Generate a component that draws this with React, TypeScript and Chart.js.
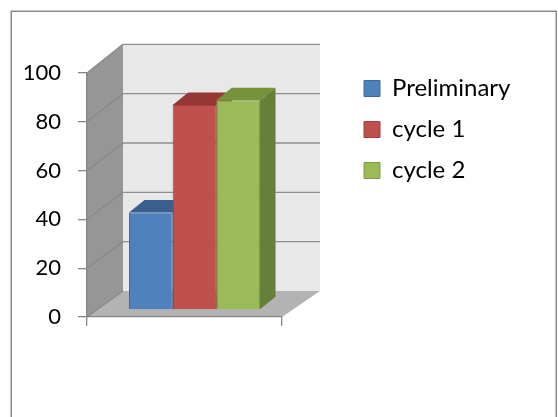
import { useEffect, useRef } from 'react';
import { Chart, registerables } from 'chart.js';

Chart.register(...registerables);

const categories = [''];
const seriesLabels = ['Preliminary', 'cycle 1', 'cycle 2'];
const preliminaryValues = [40];
const cycle1Values = [84];
const cycle2Values = [86];
const yMin = 0;
const yMax = 100;
const yStep = 20;

const frontColors = ['#4f81bd', '#c0504d', '#9bbb59'];
const edgeColors = ['#3d6a9e', '#a03f3c', '#809c48'];
const topColors = ['#3a5f8e', '#953835', '#76933c'];
const sideColors = ['#34557e', '#853230', '#66803a'];

const FONT = 'Lato, "Noto Sans", sans-serif';
const DEPTH = { dx: 36, dy: -26 };
const BAR_OFF = { dx: 10, dy: -7 };
const BAR_DEPTH = { dx: 15.5, dy: -12.5 };
const LEGEND_PAD = 17;
const LEGEND_FONT = 24;

const walls3d = {
  id: 'walls3d',
  beforeDraw(chart: any) {
    const { ctx, chartArea: a } = chart;
    const y = chart.scales.y;
    ctx.save();
    ctx.fillStyle = '#ffffff';
    ctx.fillRect(0, 0, chart.width, chart.height);
    ctx.strokeStyle = '#8a8a8a';
    ctx.lineWidth = 1.5;
    ctx.strokeRect(11.25, 11.25, 545, 440);

    const y0 = y.getPixelForValue(yMin);
    const back = (v: number) => y0 + (y.getPixelForValue(v) - y0) * 1.011 + DEPTH.dy;
    const L = a.left;
    const R = a.right;
    const BL = L + DEPTH.dx;
    const BR = R + DEPTH.dx + 2;
    const bTop = back(yMax);
    const b0 = back(yMin);

    ctx.fillStyle = '#e8e8e8';
    ctx.fillRect(BL, bTop, BR - BL, b0 - bTop);

    ctx.fillStyle = '#969696';
    ctx.beginPath();
    ctx.moveTo(L, y.getPixelForValue(yMax));
    ctx.lineTo(BL, bTop);
    ctx.lineTo(BL, b0);
    ctx.lineTo(L, y0);
    ctx.closePath();
    ctx.fill();

    ctx.fillStyle = '#b3b3b3';
    ctx.beginPath();
    ctx.moveTo(L, y0);
    ctx.lineTo(BL, b0);
    ctx.lineTo(BR, b0);
    ctx.lineTo(R, y0);
    ctx.closePath();
    ctx.fill();

    ctx.lineWidth = 1.3;
    y.ticks.forEach((t: any) => {
      const fy = y.getPixelForValue(t.value);
      const by = back(t.value);
      if (t.value > yMin) {
        ctx.strokeStyle = '#8e8e8e';
        ctx.beginPath();
        ctx.moveTo(BL, by);
        ctx.lineTo(BR, by);
        ctx.stroke();
      }
      ctx.strokeStyle = '#888888';
      ctx.beginPath();
      ctx.moveTo(L, fy);
      ctx.lineTo(BL, by);
      ctx.stroke();
    });
    ctx.restore();
  },
  afterLayout(chart: any) {
    const lg = chart.legend;
    if (!lg) return;
    const w = lg.width;
    const h = lg.height;
    const left = 364 - LEGEND_PAD;
    const top = 88.5 - LEGEND_PAD - LEGEND_FONT / 2;
    lg.left = left;
    lg.right = left + w;
    lg.top = top;
    lg.bottom = top + h;
  },
  beforeDatasetsDraw(chart: any) {
    const ctx = chart.ctx;
    ctx.save();
    ctx.translate(BAR_OFF.dx, BAR_OFF.dy);
    chart.data.datasets.forEach((_ds: any, i: number) => {
      const meta = chart.getDatasetMeta(i);
      meta.data.forEach((el: any) => {
        const { x, y, base, width } = el.getProps(['x', 'y', 'base', 'width'], true);
        const l = x - width / 2;
        const r = x + width / 2;
        ctx.fillStyle = topColors[i];
        ctx.beginPath();
        ctx.moveTo(l, y);
        ctx.lineTo(r, y);
        ctx.lineTo(r + BAR_DEPTH.dx, y + BAR_DEPTH.dy);
        ctx.lineTo(l + BAR_DEPTH.dx, y + BAR_DEPTH.dy);
        ctx.closePath();
        ctx.fill();
        ctx.fillStyle = sideColors[i];
        ctx.beginPath();
        ctx.moveTo(r, y);
        ctx.lineTo(r + BAR_DEPTH.dx, y + BAR_DEPTH.dy);
        ctx.lineTo(r + BAR_DEPTH.dx, base + BAR_DEPTH.dy);
        ctx.lineTo(r, base);
        ctx.closePath();
        ctx.fill();
      });
    });
  },
  afterDatasetsDraw(chart: any) {
    chart.ctx.restore();
  },
};

export default function App() {
  const ref = useRef<HTMLCanvasElement | null>(null);
  useEffect(() => {
    if (!ref.current) return;
    const seriesValues = [preliminaryValues, cycle1Values, cycle2Values];
    const chart = new Chart(ref.current, {
      type: 'bar',
      data: {
        labels: categories,
        datasets: seriesLabels.map((label, i) => ({
          label,
          data: seriesValues[i],
          backgroundColor: frontColors[i],
          borderColor: edgeColors[i],
          borderWidth: 1,
          categoryPercentage: 0.672,
          barPercentage: 1,
          clip: false as any,
        })),
      },
      options: {
        responsive: false,
        animation: false,
        layout: { padding: { top: 73, left: 0, right: 276, bottom: 0 } },
        plugins: {
          tooltip: { enabled: false },
          legend: {
            position: 'chartArea' as any,
            align: 'start',
            labels: {
              boxWidth: 16,
              boxHeight: 16,
              padding: LEGEND_PAD,
              color: '#000000',
              font: { family: FONT, size: LEGEND_FONT },
            },
          },
        },
        scales: {
          x: {
            ticks: { display: false },
            grid: { drawOnChartArea: false, drawTicks: true, tickLength: 9, color: '#868686', offset: true, lineWidth: 1.3 },
            border: { display: true, color: '#868686', width: 1.3 },
            afterFit: (s: any) => { s.height = 100; },
          },
          y: {
            min: yMin,
            max: yMax,
            ticks: { stepSize: yStep, padding: 17, color: '#000000', font: { family: FONT, size: 22 } },
            grid: { drawOnChartArea: false, drawTicks: true, tickLength: 9, color: '#868686', lineWidth: 1.3 },
            border: { display: true, color: '#868686', width: 1.3 },
            afterFit: (s: any) => { s.width = 87; },
          },
        },
      },
      plugins: [walls3d],
    });
    return () => chart.destroy();
  }, []);
  return (
    <div style={{ position: 'fixed', left: 0, top: 0, width: 558, height: 417, background: '#fff' }}>
      <canvas ref={ref} width={558} height={417} style={{ display: 'block' }} />
    </div>
  );
}
